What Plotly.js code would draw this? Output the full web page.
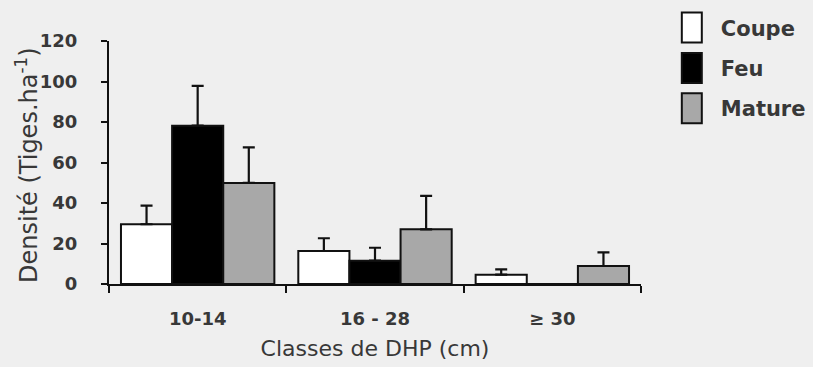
<!DOCTYPE html>
<html>
<head>
<meta charset="utf-8">
<script src="https://cdn.plot.ly/plotly-3.0.1.min.js"></script>
<style>
  html, body { margin: 0; padding: 0; background: #efefef; }
  #chart { width: 813px; height: 367px; }
</style>
</head>
<body>
<div id="chart"></div>
<script>
// Diameter classes (DHP, cm)
const classes = ['10-14', '16 - 28', '\u2265 30'];

// Mean stem density (stems per ha) and upper standard error per stand type
const coupe = [29.5, 16.3, 4.6];
const coupeErr = [9.2, 6.3, 2.6];

const feu = [78.2, 11.5, 0];
const feuErr = [19.6, 6.4, 0];

const mature = [49.9, 27.0, 8.9];
const matureErr = [17.6, 16.5, 6.7];

const seriesNames = ['Coupe', 'Feu', 'Mature'];
const yTicks = [0, 20, 40, 60, 80, 100, 120];
const yTitle = 'Densité (Tiges.ha<sup>-1</sup>)';
const xTitle = 'Classes de DHP (cm)';

const ink = '#111111';
const textColor = '#383838';
const fontFam = '"DejaVu Sans", Verdana, sans-serif';

function barTrace(name, values, errs, fill) {
  return {
    type: 'bar',
    name: name,
    x: classes,
    y: values,
    marker: { color: fill, line: { color: ink, width: 2 } },
    error_y: {
      type: 'data',
      symmetric: false,
      array: errs,
      arrayminus: values.map(() => 0),
      color: ink,
      thickness: 2.2,
      width: 6
    },
    legendgroup: name
  };
}

const data = [
  barTrace(seriesNames[0], coupe, coupeErr, '#ffffff'),
  barTrace(seriesNames[1], feu, feuErr, '#000000'),
  barTrace(seriesNames[2], mature, matureErr, '#a8a8a8')
];

const layout = {
  width: 813,
  height: 367,
  paper_bgcolor: '#efefef',
  plot_bgcolor: '#efefef',
  margin: { l: 109, r: 172, t: 41, b: 83, autoexpand: false },
  barmode: 'group',
  bargap: 0.135,
  bargroupgap: 0,
  font: { family: fontFam, color: textColor },
  xaxis: {
    type: 'category',
    range: [-0.5, 2.5],
    tickson: 'boundaries',
    ticks: 'outside',
    ticklen: 7,
    tickwidth: 2,
    tickcolor: ink,
    showline: true,
    linecolor: ink,
    linewidth: 2,
    showgrid: false,
    zeroline: false,
    ticklabelstandoff: 17,
    tickfont: { family: fontFam, size: 18, weight: 'bold', color: textColor },
    title: {
      text: xTitle,
      font: { family: fontFam, size: 22, color: textColor },
      standoff: 13
    },
    automargin: false
  },
  yaxis: {
    range: [0, 120],
    tickvals: yTicks,
    ticktext: yTicks.map(String),
    ticks: 'outside',
    ticklen: 6,
    tickwidth: 2,
    tickcolor: ink,
    showline: true,
    linecolor: ink,
    linewidth: 2,
    showgrid: false,
    zeroline: false,
    ticklabelstandoff: 20,
    tickfont: { family: fontFam, size: 18, weight: 'bold', color: textColor },
    automargin: false
  },
  // Vertical axis title, placed next to the tick labels
  annotations: [{
    text: yTitle,
    xref: 'paper',
    yref: 'paper',
    x: -0.154,
    y: 0.49,
    xanchor: 'center',
    yanchor: 'middle',
    textangle: -90,
    showarrow: false,
    font: { family: fontFam, size: 24, color: textColor }
  }],
  legend: {
    x: 1.041,
    xanchor: 'left',
    y: 1.138,
    yanchor: 'top',
    itemwidth: 48,
    tracegroupgap: 10,
    bgcolor: 'rgba(0,0,0,0)',
    font: { family: fontFam, size: 21, weight: 'bold', color: textColor }
  },
  showlegend: true
};

Plotly.newPlot('chart', data, layout, { displayModeBar: false, staticPlot: true }).then(function (gd) {
  // Taller, rectangular legend swatches
  gd.querySelectorAll('.legend .legendpoints path').forEach(function (p) {
    p.setAttribute('d', 'M10,15H-10V-15H10Z');
  });
});
</script>
</body>
</html>
